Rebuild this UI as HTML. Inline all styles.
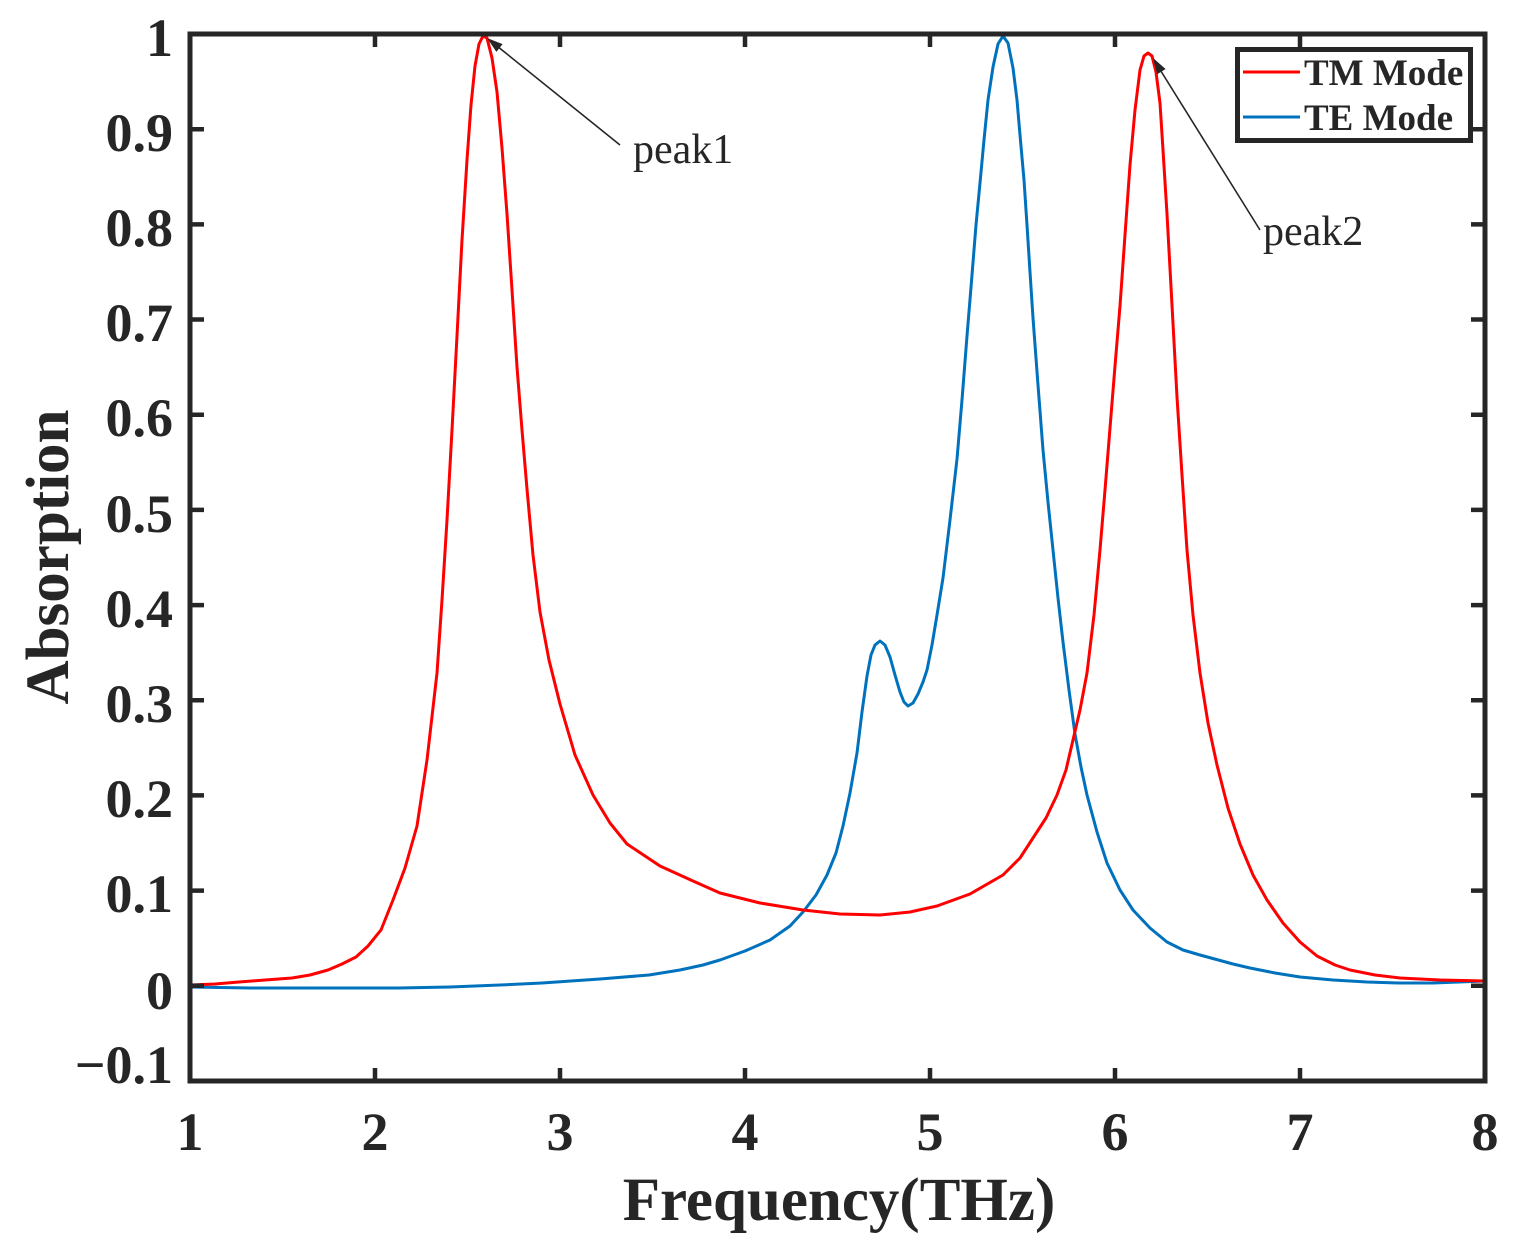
<!DOCTYPE html>
<html><head><meta charset="utf-8"><style>
html,body{margin:0;padding:0;background:#fff;}
svg{display:block;}
text{font-family:"Liberation Serif","Times New Roman",serif;fill:#262626;}
</style></head><body>
<svg width="1514" height="1252" viewBox="0 0 1514 1252" xmlns="http://www.w3.org/2000/svg">
<rect x="0" y="0" width="1514" height="1252" fill="#fff"/>
<!-- TE curve -->
<polyline fill="none" stroke="#0072BD" stroke-width="3" stroke-linejoin="round" stroke-linecap="round" points="190,987 250,988 300,988 350,988 399,988 450,987 500,985 542,983 600,979 649,975 680,970 703,965 720,960 745,951 770,940 790,926 803,912 816,895 827,875 836,853 843,826 850,793 857,753 862,712 867,676 871,655 875,645 880,641 885,645 890,657 895,675 900,692 904,702 908,706 913,703 918,694 923,682 927,670 932,645 937,615 943,578 950,520 957,459 962,400 967,336 972,275 976,225 980,183 984,140 988,100 993,67 998,44 1003,36 1008,43 1013,68 1017,100 1020,135 1024,180 1027,225 1030,272 1033,318 1038,385 1043,450 1048,502 1053,550 1058,598 1063,642 1069,690 1075,734 1081,767 1087,795 1097,832 1107,863 1120,890 1133,910 1150,928 1167,942 1183,950 1200,955 1233,964 1250,968 1275,973 1300,977 1333,980 1367,982 1400,983 1433,983 1485,981"/>
<!-- TM curve -->
<polyline fill="none" stroke="#FF0000" stroke-width="3" stroke-linejoin="round" stroke-linecap="round" points="190,985 215,984 239,982 265,980 292,978 310,975 328,970 342,964 356,957 368,946 381,930 393,900 405,868 417,826 427,760 437,673 442,600 447,520 452,430 457,336 462,240 467,160 471,105 475,66 479,44 483,36 487,38 492,58 497,92 502,148 507,214 512,290 517,367 522,430 527,489 533,555 540,612 549,660 560,704 575,755 593,795 610,823 627,844 660,866 693,881 720,893 760,903 803,910 840,914 880,915 910,912 937,906 970,894 1003,875 1020,858 1033,838 1046,818 1057,795 1066,770 1073,740 1080,710 1087,673 1094,615 1100,550 1105,490 1110,428 1115,366 1120,306 1125,235 1130,165 1135,110 1140,70 1144,56 1148,53 1152,56 1156,72 1160,103 1163,150 1167,214 1172,305 1177,397 1182,475 1187,550 1193,615 1200,673 1208,723 1217,765 1228,808 1240,844 1253,875 1267,900 1283,923 1300,942 1317,956 1335,965 1350,970 1375,975 1400,978 1440,980 1485,981"/>
<!-- axes box -->
<rect x="190" y="34" width="1295" height="1047" fill="none" stroke="#262626" stroke-width="5"/>
<!-- ticks -->
<g stroke="#262626" stroke-width="4.5">
<path d="M375,1081v-13M560,1081v-13M745,1081v-13M930,1081v-13M1115,1081v-13M1300,1081v-13
M375,34v13M560,34v13M745,34v13M930,34v13M1115,34v13M1300,34v13
M190,985.8h14M190,890.6h14M190,795.4h14M190,700.3h14M190,605.1h14M190,509.9h14M190,414.7h14M190,319.5h14M190,224.4h14M190,129.2h14
M1485,985.8h-14M1485,890.6h-14M1485,795.4h-14M1485,700.3h-14M1485,605.1h-14M1485,509.9h-14M1485,414.7h-14M1485,319.5h-14M1485,224.4h-14M1485,129.2h-14"/>
</g>
<!-- y tick labels -->
<g font-size="54" font-weight="bold" text-anchor="end">
<text x="173" y="56">1</text>
<text x="173" y="151">0.9</text>
<text x="173" y="246">0.8</text>
<text x="173" y="341">0.7</text>
<text x="173" y="436">0.6</text>
<text x="173" y="532">0.5</text>
<text x="173" y="627">0.4</text>
<text x="173" y="722">0.3</text>
<text x="173" y="817">0.2</text>
<text x="173" y="912">0.1</text>
<text x="173" y="1009">0</text>
<text x="173" y="1083">−0.1</text>
</g>
<!-- x tick labels -->
<g font-size="54" font-weight="bold" text-anchor="middle">
<text x="190" y="1150">1</text>
<text x="375" y="1150">2</text>
<text x="560" y="1150">3</text>
<text x="745" y="1150">4</text>
<text x="930" y="1150">5</text>
<text x="1115" y="1150">6</text>
<text x="1300" y="1150">7</text>
<text x="1485" y="1150">8</text>
</g>
<!-- axis labels -->
<text x="839" y="1220" font-size="61" font-weight="bold" text-anchor="middle">Frequency(THz)</text>
<text transform="translate(68,557) rotate(-90)" font-size="61" font-weight="bold" text-anchor="middle">Absorption</text>
<!-- annotations -->
<line x1="620" y1="145" x2="497" y2="46" stroke="#262626" stroke-width="1.6"/>
<polygon points="487,38 496.4,51.9 502.6,44.1" fill="#262626"/>
<text x="633" y="163" font-size="42">peak1</text>
<line x1="1260" y1="230" x2="1159" y2="68" stroke="#262626" stroke-width="1.6"/>
<polygon points="1153,58 1157.2,74.2 1165.6,69" fill="#262626"/>
<text x="1263" y="245" font-size="42">peak2</text>
<!-- legend -->
<rect x="1237.5" y="49.5" width="233" height="91" fill="#fff" stroke="#262626" stroke-width="5"/>
<line x1="1243" y1="72" x2="1300" y2="72" stroke="#FF0000" stroke-width="3"/>
<line x1="1243" y1="117" x2="1300" y2="117" stroke="#0072BD" stroke-width="3"/>
<text x="1304" y="85" font-size="37" font-weight="bold">TM Mode</text>
<text x="1304" y="130" font-size="37" font-weight="bold">TE Mode</text>
</svg>
</body></html>
